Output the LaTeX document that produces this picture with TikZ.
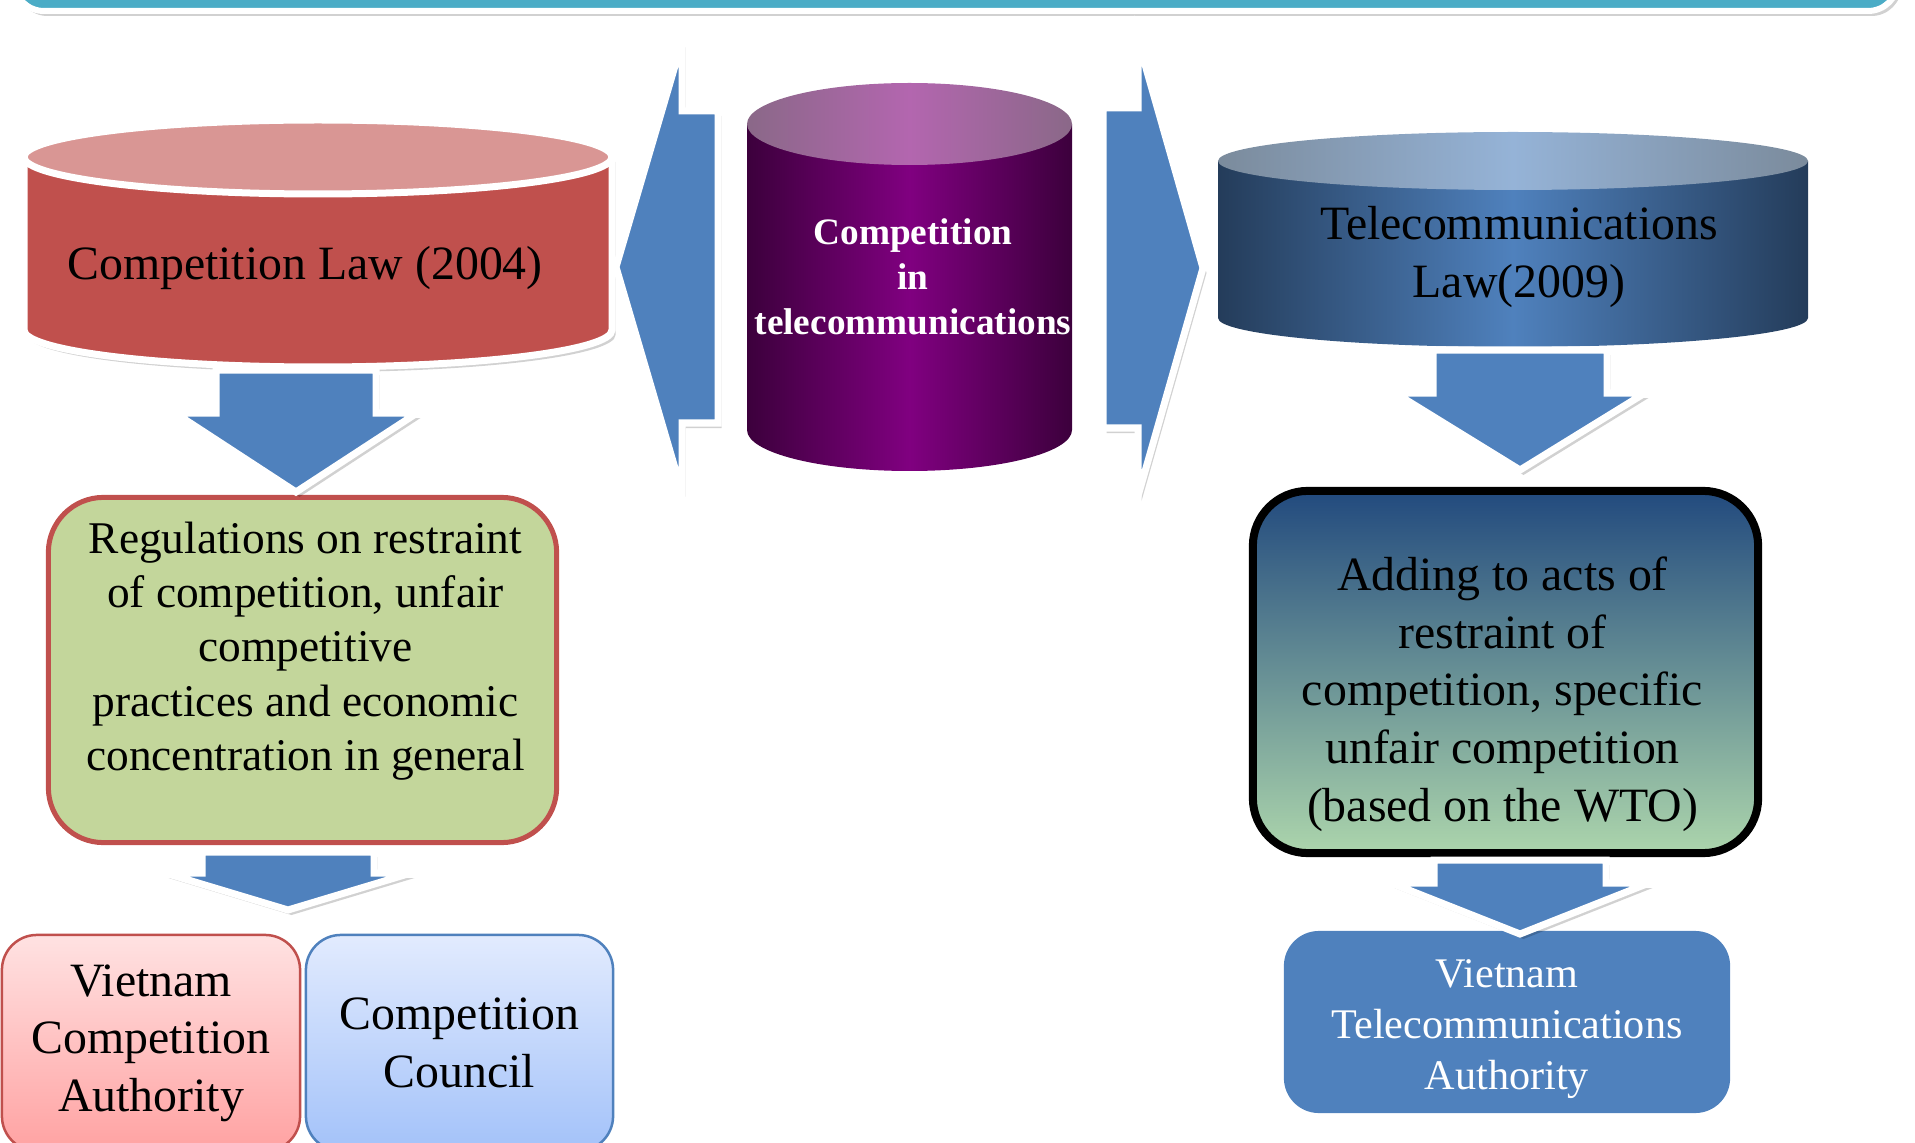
\documentclass[tikz,border=0pt]{standalone}
\usepackage{fontspec}
\setmainfont{Liberation Serif}
\usetikzlibrary{calc,shadows}
\definecolor{barteal}{HTML}{4BACC6}
\definecolor{arrblue}{HTML}{4F81BD}
\definecolor{lawred}{HTML}{C0504D}
\definecolor{lawtop}{HTML}{D99694}
\definecolor{regreen}{HTML}{C3D69B}
\definecolor{purpdark}{HTML}{3C003C}
\definecolor{purpmid}{HTML}{800080}
\definecolor{purpedge}{HTML}{8A6888}
\definecolor{purplite}{HTML}{B366AF}
\definecolor{navydark}{HTML}{243C5A}
\definecolor{navyedge}{HTML}{7B8B9C}
\definecolor{navylite}{HTML}{95B3D7}
\definecolor{wtotop}{HTML}{224A7E}
\definecolor{wtobot}{HTML}{ACD5AC}
\definecolor{vcatop}{HTML}{FFE2E2}
\definecolor{vcabot}{HTML}{FFA2A2}
\definecolor{cctop}{HTML}{E2EBFE}
\definecolor{ccbot}{HTML}{A3C2F9}

% down block arrow: centre x, top, wing y, tip y, half shaft, half wings
\newcommand{\downblk}[6]{%
  \draw[blk] (#1-#5,#2) -- (#1+#5,#2) -- (#1+#5,#3) -- (#1+#6,#3)
    -- (#1,#4) -- (#1-#6,#3) -- (#1-#5,#3) -- cycle;
}

\begin{document}
\begin{tikzpicture}[
  x=0.01cm, y=-0.01cm,
  shad/.style={drop shadow={shadow xshift=0.035cm, shadow yshift=-0.05cm,
    opacity=0.18, fill=black}},
  blk/.style={fill=arrblue, draw=white, line width=0.07cm, shad},
  lbl/.style={align=center, inner sep=0pt,
    font=\fontsize{13.6}{16.4}\selectfont},
  bigbox/.style={rounded corners=0.55cm, inner sep=0pt},
  smallbox/.style={rounded corners=0.35cm, align=center, inner sep=0pt,
    font=\fontsize{13.6}{16.4}\selectfont}
]
  \useasboundingbox (0,0) rectangle (1915,1143);

  % bar cut off at the top
  \draw[draw=white, line width=0.06cm, fill=barteal, rounded corners=0.3cm, shad]
    (14,-80) rectangle (1898,11);

  % competition law
  \draw[draw=white, line width=0.07cm, fill=lawred, shad]
    (24,157) -- (24,330) arc[start angle=180, end angle=0, x radius=294, y radius=37]
    -- (612,157) -- cycle;
  \draw[draw=white, line width=0.07cm, fill=lawtop]
    (318,157) ellipse [x radius=294, y radius=37];
  \node[lbl] (lawtxt) at (305,268) {Competition Law (2004)};

  % competition in telecommunications
  \path[left color=purpdark, right color=purpdark, middle color=purpmid]
    (747,124) -- (747,430) arc[start angle=180, end angle=0, x radius=162.5, y radius=41]
    -- (1072,124) -- cycle;
  \path[left color=purpedge, right color=purpedge, middle color=purplite]
    (909.5,124) ellipse [x radius=162.5, y radius=41];
  \node[lbl, text=white, font=\bfseries\fontsize{10.6}{12.8}\selectfont] (comptxt)
    at (913,277) {Competition\\in\\telecommunications};

  % telecommunications law
  \path[left color=navydark, right color=navydark, middle color=arrblue]
    (1218,161) -- (1218,318) arc[start angle=180, end angle=0, x radius=295, y radius=29]
    -- (1808,161) -- cycle;
  \path[left color=navyedge, right color=navyedge, middle color=navylite]
    (1513,161) ellipse [x radius=295, y radius=29];
  \node[lbl] (tlawtxt) at (1519,257) {Telecommunications\\Law(2009)};

  % regulation boxes
  \node[bigbox, draw=lawred, line width=0.05cm, fill=regreen,
    minimum width=5.08cm, minimum height=3.45cm] (reg) at (302.5,670) {};
  \node[lbl, font=\fontsize{12.9}{15.4}\selectfont] (regtxt) at ($(reg.center)+(3,-19)$)
    {Regulations on restraint\\of competition, unfair\\competitive\\practices and economic\\concentration in general};
  \node[bigbox, draw=black, line width=0.08cm, top color=wtotop, bottom color=wtobot,
    minimum width=5.05cm, minimum height=3.62cm] (add) at (1505.5,672) {};
  \node[lbl] (addtxt) at ($(add.center)+(-3,22)$)
    {Adding to acts of\\restraint of\\competition, specific\\unfair competition\\(based on the WTO)};

  % authorities
  \node[smallbox, draw=lawred, line width=0.025cm, top color=vcatop, bottom color=vcabot,
    minimum width=2.98cm, minimum height=2.16cm] (vca) at (151,1043)
    {Vietnam\\Competition\\Authority};
  \node[smallbox, draw=arrblue, line width=0.025cm, top color=cctop, bottom color=ccbot,
    minimum width=3.07cm, minimum height=2.16cm] (cc) at (459.5,1043)
    {Competition\\Council};
  \node[smallbox, fill=arrblue, minimum width=4.46cm, minimum height=1.82cm]
    (vta) at (1507,1022) {};
  \node[lbl, text=white, font=\fontsize{12}{14.5}\selectfont] (vtatxt)
    at ($(vta.center)+(0,7)$) {Vietnam\\Telecommunications\\Authority};

  % block arrows
  \draw[blk] (616,267) -- (682,42) -- (682,111) -- (718,111) -- (718,423)
    -- (682,423) -- (682,492) -- cycle;
  \draw[blk] (1103,108) -- (1138,108) -- (1138,40) -- (1203,268) -- (1138,496)
    -- (1138,428) -- (1103,428) -- cycle;
  \downblk{296}{370}{413}{492}{80}{121}
  \downblk{288}{852}{873}{910}{86}{123}
  \downblk{1520}{350}{393}{470}{87}{125}
  \downblk{1520}{860}{883}{934}{86}{129}
\end{tikzpicture}
\end{document}
